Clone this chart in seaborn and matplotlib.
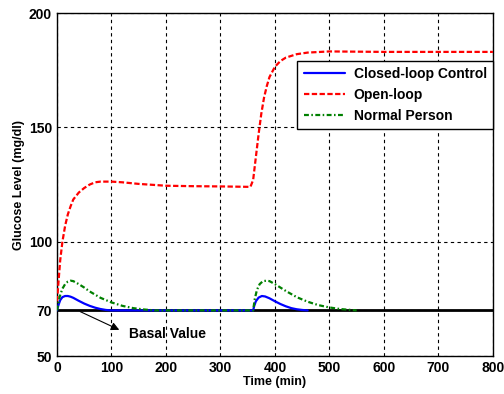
import matplotlib
matplotlib.use("Agg")
import matplotlib.pyplot as plt
import seaborn as sns
import pandas as pd

t_closed = [0, 3, 6, 10, 15, 20, 25, 30, 40, 50, 60, 70, 80, 90, 100,
            360, 362, 365, 370, 376, 382, 390, 400, 410, 420, 430, 440, 450, 460]
closed = [70, 72.5, 74.5, 75.8, 76.3, 76.3, 76.0, 75.5, 74.2, 73.0, 72.0, 71.2, 70.6, 70.2, 70,
          70, 72.0, 74.0, 75.6, 76.3, 76.1, 75.3, 74.0, 72.8, 71.8, 71.0, 70.5, 70.2, 70]

t_open = [0, 3, 6, 10, 15, 20, 25, 30, 40, 50, 60, 70, 80, 100, 120, 150, 200, 250, 300, 355,
          360, 365, 370, 375, 380, 385, 390, 400, 410, 420, 440, 460, 500, 600, 700, 800]
open_loop = [74, 83, 92, 100, 107, 112, 115.5, 118.5, 121.5, 123.5, 125, 126, 126.3, 126.3, 126, 125.3,
             124.5, 124.3, 124.2, 124, 127, 137, 147, 156, 163, 168, 172, 176.5, 179, 180.5, 182,
             182.7, 183.2, 183, 183, 183]

t_normal = [0, 5, 10, 15, 20, 25, 30, 40, 50, 60, 80, 100, 120, 140, 160, 180,
            360, 363, 367, 372, 378, 385, 390, 400, 420, 440, 460, 480, 500, 520, 550]
normal = [70, 76, 79.5, 81.5, 82.6, 83, 82.8, 81.5, 80, 78.3, 75.5, 73.5, 72, 71, 70.4, 70,
          70, 75, 79, 81.5, 82.8, 83, 82.8, 81.5, 78.5, 75.8, 73.8, 72.3, 71.3, 70.6, 70]

basal_value = 70
x_ticks = [0, 100, 200, 300, 400, 500, 600, 700, 800]
y_ticks = [50, 70, 100, 150, 200]

sns.set_style("white")
plt.rcParams['font.family'] = ['Liberation Sans', 'DejaVu Sans']
plt.rcParams['font.weight'] = 'bold'
plt.rcParams['text.color'] = 'black'
plt.rcParams['axes.labelcolor'] = 'black'

fig = plt.figure(figsize=(5.04, 3.94), dpi=100)
ax = fig.add_axes([0.113, 0.096, 0.865, 0.871])

ax.axhline(basal_value, color='black', lw=2, zorder=1)
sns.lineplot(x=t_closed, y=closed, ax=ax, color=(0, 0, 1), lw=1.6, label='Closed-loop Control', zorder=3)
sns.lineplot(x=t_open, y=open_loop, ax=ax, color=(1, 0, 0), lw=1.6, label='Open-loop', zorder=3)
sns.lineplot(x=t_normal, y=normal, ax=ax, color=(0, 0.5, 0), lw=1.6, label='Normal Person', zorder=3)
ax.lines[2].set_dashes([2.4, 1.1])
ax.lines[3].set_dashes([2.2, 1.1, 0.7, 1.1])

ax.set_xlim(0, 800)
ax.set_ylim(50, 200)
ax.set_xticks(x_ticks)
ax.set_yticks(y_ticks)
ax.tick_params(labelsize=10, direction='in', length=3, colors='black')
for lab in ax.get_xticklabels() + ax.get_yticklabels():
    lab.set_fontweight('bold')
ax.grid(True, color='black', linestyle=(0, (3, 3)), lw=0.8)
for s in ax.spines.values():
    s.set_color('black')
    s.set_linewidth(1)

ax.set_xlabel('Time (min)', fontsize=9, fontweight='bold', labelpad=1, color='black')
ax.set_ylabel('Glucose Level (mg/dl)', fontsize=9, fontweight='bold', labelpad=3, color='black')

ax.annotate('Basal Value', xy=(119, 61), xytext=(132, 59.5), fontsize=10, fontweight='bold',
            va='center', ha='left', color='black', annotation_clip=False)
ax.annotate('', xy=(119, 61), xytext=(38, 70),
            arrowprops=dict(arrowstyle='-|>', color='black', lw=0.8, mutation_scale=12))

leg = ax.legend(loc='upper right', bbox_to_anchor=(1.0, 0.86), fontsize=10, handlelength=3.0,
                frameon=True, fancybox=False, framealpha=1, borderpad=0.45, labelspacing=0.5,
                borderaxespad=0, handletextpad=0.6)
leg.get_frame().set_edgecolor('black')
leg.get_frame().set_linewidth(1)
for txt in leg.get_texts():
    txt.set_fontweight('bold')
    txt.set_color('black')

fig.savefig('out.png', dpi=100)
